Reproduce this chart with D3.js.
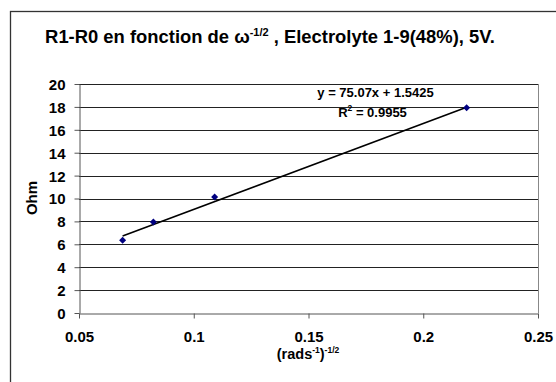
<!DOCTYPE html>
<html>
<head>
<meta charset="utf-8">
<script src="https://cdn.jsdelivr.net/npm/d3@7"></script>
<style>
  body { margin: 0; background: #fff; }
  text { font-family: "Liberation Sans", Arial, sans-serif; font-weight: bold; fill: #000; }
</style>
</head>
<body>
<div id="chart"></div>
<script>
// measured points
const xValues = [0.069, 0.0824, 0.1091, 0.2189];
const yValues = [6.35, 7.95, 10.13, 17.93];
const xTicks = [0.05, 0.1, 0.15, 0.2, 0.25];
const yTicks = [0, 2, 4, 6, 8, 10, 12, 14, 16, 18, 20];
// linear trend
const slope = 75.07;
const intercept = 1.5425;
const r2 = 0.9955;

const width = 556, height = 382;
const plot = { left: 79, right: 538, top: 84, bottom: 313 };

const svg = d3.select("#chart").append("svg")
    .attr("width", width).attr("height", height);

// outer chart border (right and bottom run past the window)
svg.append("rect")
    .attr("x", 10.5).attr("y", 11.5)
    .attr("width", 600).attr("height", 400)
    .attr("fill", "#fff").attr("stroke", "#333").attr("stroke-width", 1.3);

const x = d3.scaleLinear().domain([0.05, 0.25]).range([plot.left, plot.right]);
const y = d3.scaleLinear().domain([0, 20]).range([plot.bottom, plot.top]);

// gridlines
svg.append("g")
    .selectAll("line")
    .data(yTicks.filter(d => d > 0))
    .enter().append("line")
    .attr("x1", plot.left).attr("x2", plot.right)
    .attr("y1", d => Math.round(y(d)) + 0.5).attr("y2", d => Math.round(y(d)) + 0.5)
    .attr("stroke", "#222").attr("stroke-width", 1);

// plot frame right side
svg.append("line")
    .attr("x1", plot.right + 0.5).attr("x2", plot.right + 0.5)
    .attr("y1", plot.top).attr("y2", plot.bottom)
    .attr("stroke", "#888");

// axes
const xAxis = svg.append("g")
    .attr("transform", "translate(0," + (plot.bottom + 0.5) + ")")
    .call(d3.axisBottom(x).tickValues(xTicks).tickSize(5).tickSizeOuter(0)
        .tickFormat(d => String(+d.toFixed(2))));
const yAxis = svg.append("g")
    .attr("transform", "translate(" + (plot.left + 0.5) + ",0)")
    .call(d3.axisLeft(y).tickValues(yTicks).tickSize(5).tickSizeOuter(0));

[xAxis, yAxis].forEach(a => {
    a.select(".domain").attr("stroke", "#555");
    a.selectAll(".tick line").attr("stroke", "#555");
    a.selectAll("text")
        .attr("font-family", "Liberation Sans, Arial, sans-serif")
        .attr("font-weight", "bold").attr("font-size", 15).attr("fill", "#000");
});
xAxis.selectAll("text").attr("dy", 0).attr("y", 28);
yAxis.selectAll("text").attr("x", -14).attr("dy", "0.36em");

// trend line
svg.append("line")
    .attr("x1", x(d3.min(xValues))).attr("y1", y(slope * d3.min(xValues) + intercept))
    .attr("x2", x(d3.max(xValues))).attr("y2", y(slope * d3.max(xValues) + intercept))
    .attr("stroke", "#000").attr("stroke-width", 1.6);

// diamond markers
svg.append("g")
    .selectAll("path")
    .data(xValues.map((v, i) => [v, yValues[i]]))
    .enter().append("path")
    .attr("transform", d => "translate(" + x(d[0]) + "," + y(d[1]) + ")")
    .attr("d", "M0,-3.5L3.5,0L0,3.5L-3.5,0Z")
    .attr("fill", "#000080");

// title
const title = svg.append("text")
    .attr("x", 270).attr("y", 43)
    .attr("text-anchor", "middle").attr("font-size", 18.4);
title.append("tspan").text("R1-R0 en fonction de \u03c9");
title.append("tspan").attr("dy", -7).attr("font-size", 11).text("-1/2");
title.append("tspan").attr("dy", 7).text(" , Electrolyte 1-9(48%), 5V.");

// trend labels
svg.append("text")
    .attr("x", 375.5).attr("y", 97)
    .attr("text-anchor", "middle").attr("font-size", 13)
    .text("y = " + slope + "x + " + intercept);
const r2Label = svg.append("text")
    .attr("x", 372.5).attr("y", 117)
    .attr("text-anchor", "middle").attr("font-size", 13);
r2Label.append("tspan").text("R");
r2Label.append("tspan").attr("dy", -6).attr("font-size", 8.5).text("2");
r2Label.append("tspan").attr("dy", 6).text(" = " + r2);

// axis titles
const xTitle = svg.append("text")
    .attr("x", 308).attr("y", 359)
    .attr("text-anchor", "middle").attr("font-size", 14.5);
xTitle.append("tspan").text("(rads");
xTitle.append("tspan").attr("dy", -6).attr("font-size", 8.5).text("-1");
xTitle.append("tspan").attr("dy", 6).text(")");
xTitle.append("tspan").attr("dy", -6).attr("font-size", 8.5).text("-1/2");

svg.append("text")
    .attr("transform", "translate(37,198) rotate(-90)")
    .attr("text-anchor", "middle").attr("font-size", 15)
    .text("Ohm");
</script>
</body>
</html>
